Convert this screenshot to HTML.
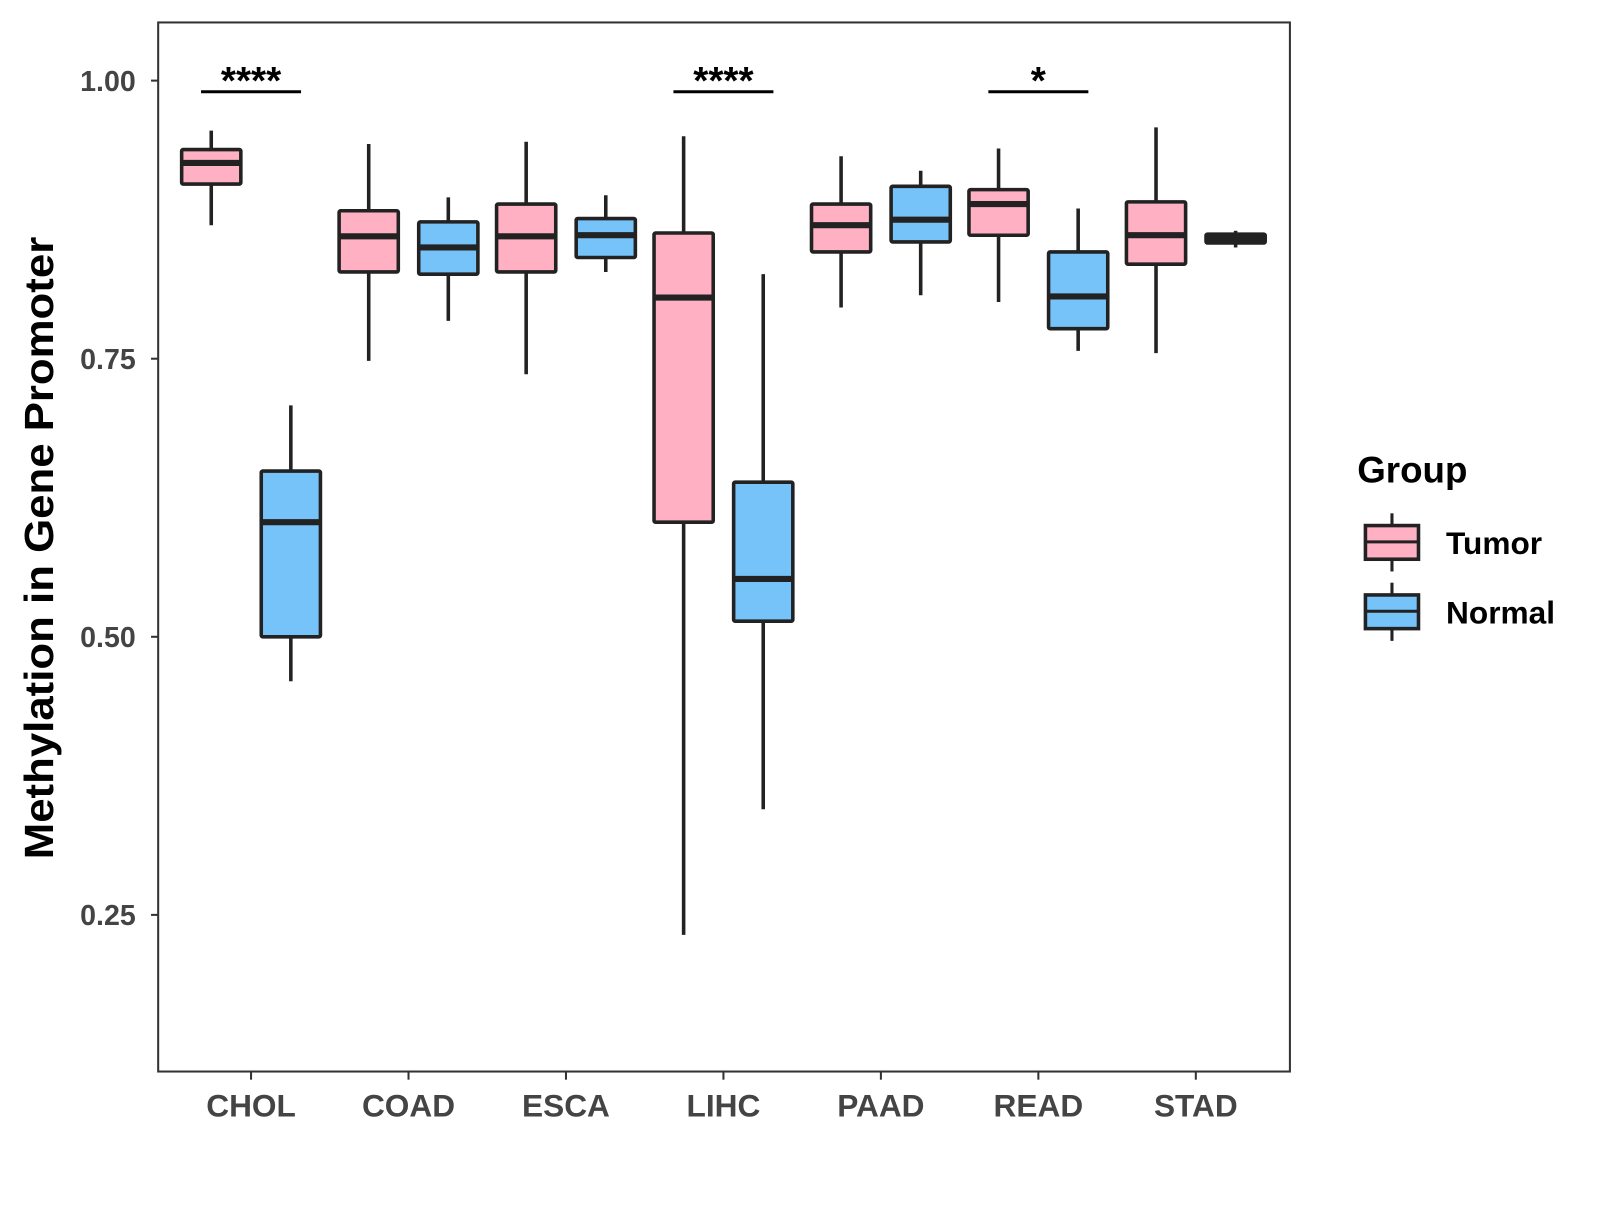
<!DOCTYPE html>
<html><head><meta charset="utf-8"><style>
body{margin:0;background:#fff;}
svg text{font-family:"Liberation Sans",Arial,sans-serif;font-weight:bold;}
</style></head><body>
<svg id="chart" width="1600" height="1200" xmlns="http://www.w3.org/2000/svg">
<g transform="scale(1.0205)">
<rect x="155" y="22" width="1109" height="1028" fill="#fff" stroke="#333" stroke-width="2"/>
<text transform="translate(52,537) rotate(-90)" text-anchor="middle" font-size="40" fill="#000" textLength="610" lengthAdjust="spacingAndGlyphs">Methylation in Gene Promoter</text>
<g id="marks"></g>
<text x="1330" y="473" font-size="36" fill="#000">Group</text>
<g>
<line x1="1364" y1="503" x2="1364" y2="560" stroke="#222" stroke-width="3"/>
<rect x="1338" y="515" width="52" height="33" fill="#FFB0C3" stroke="#222" stroke-width="3.5"/>
<line x1="1338" y1="531" x2="1390" y2="531" stroke="#222" stroke-width="3"/>
<text x="1417" y="543" font-size="31" fill="#000">Tumor</text></g>
<g>
<line x1="1364" y1="571" x2="1364" y2="628" stroke="#222" stroke-width="3"/>
<rect x="1338" y="583" width="52" height="33" fill="#76C3FA" stroke="#222" stroke-width="3.5"/>
<line x1="1338" y1="599" x2="1390" y2="599" stroke="#222" stroke-width="3"/>
<text x="1417" y="611" font-size="31" fill="#000">Normal</text></g>
</g>
</svg>
<script>
const categories=["CHOL","COAD","ESCA","LIHC","PAAD","READ","STAD"];
const yTicks=[0.25,0.50,0.75,1.00];
const yTickLabels=["0.25","0.50","0.75","1.00"];
// [lowerWhisker,q1,median,q3,upperWhisker]
const tumorStats=[[0.870,0.907,0.926,0.938,0.955],[0.748,0.828,0.860,0.883,0.943],[0.736,0.828,0.860,0.889,0.945],[0.232,0.603,0.805,0.863,0.950],[0.796,0.846,0.870,0.889,0.932],[0.801,0.861,0.889,0.902,0.939],[0.755,0.835,0.861,0.891,0.958]];
const normalStats=[[0.460,0.500,0.603,0.649,0.708],[0.784,0.826,0.850,0.873,0.895],[0.828,0.841,0.861,0.876,0.897],[0.345,0.514,0.552,0.639,0.826],[0.807,0.855,0.875,0.905,0.919],[0.757,0.777,0.806,0.846,0.885],[0.850,0.854,0.858,0.862,0.865]];
const sigCategories=["CHOL","LIHC","READ"];
const sigLabels=["****","****","*"];
const sigLevel=[0.99,0.99,0.99];

const NS="http://www.w3.org/2000/svg";
const g=document.getElementById('marks');
function y(v){return 79+(1-v)*1090;}
function x(i){return 246+i*154.3;}
function mk(tag,attrs,parent){const e=document.createElementNS(NS,tag);for(const k in attrs)e.setAttribute(k,attrs[k]);(parent||g).appendChild(e);return e;}

yTicks.forEach((t,i)=>{
  const l=mk('line',{x1:148,x2:155,y1:y(t),y2:y(t),stroke:'#333','stroke-width':2});
  
  
  const tx=mk('text',{x:133,y:y(t)+10,'text-anchor':'end','font-size':28,fill:'#444'});
  tx.textContent=yTickLabels[i];
  
  
});
categories.forEach((c,i)=>{
  const l=mk('line',{x1:x(i),x2:x(i),y1:1050,y2:1058,stroke:'#333','stroke-width':2});
  
  
  const tx=mk('text',{x:x(i),y:1094,'text-anchor':'middle','font-size':31,fill:'#444'});
  tx.textContent=c;
  
  
});
function box(s,cx,fill,name){
  const grp=mk('g',{});
  
  
  mk('line',{x1:cx,x2:cx,y1:y(s[4]),y2:y(s[0]),stroke:'#222','stroke-width':3.5},grp);
  mk('rect',{x:cx-29,y:y(s[3]),width:58,height:Math.max(y(s[1])-y(s[3]),1),fill:fill,stroke:'#222','stroke-width':3.5,rx:1.5},grp);
  mk('line',{x1:cx-29,x2:cx+29,y1:y(s[2]),y2:y(s[2]),stroke:'#222','stroke-width':6},grp);
}
categories.forEach((c,i)=>{
  box(tumorStats[i],x(i)-39,'#FFB0C3','box-tumor-'+c.toLowerCase());
  box(normalStats[i],x(i)+39,'#76C3FA','box-normal-'+c.toLowerCase());
});
sigCategories.forEach((c,k)=>{
  const i=categories.indexOf(c);
  const l=mk('line',{x1:x(i)-49,x2:x(i)+49,y1:y(sigLevel[k]),y2:y(sigLevel[k]),stroke:'#000','stroke-width':3});
  
  
  const t=mk('text',{x:x(i),y:y(sigLevel[k])+2,'text-anchor':'middle','font-size':38,fill:'#000'});
  t.textContent=sigLabels[k];
  
  
});
</script>
</body></html>
